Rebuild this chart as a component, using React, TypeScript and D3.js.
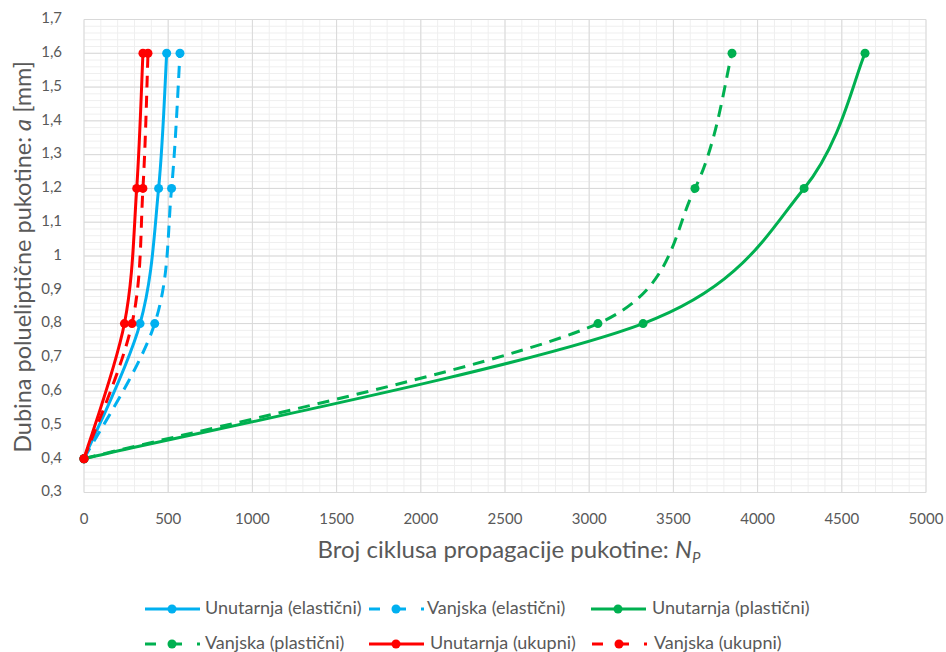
import React from "react";
import * as d3 from "d3";

const aLevels = [0.4, 0.8, 1.2, 1.6];
const unutarnjaElasticni = [0, 333, 443, 491];
const vanjskaElasticni = [0, 420, 520, 570];
const unutarnjaPlasticni = [0, 3320, 4276, 4638];
const vanjskaPlasticni = [0, 3052, 3628, 3848];
const unutarnjaUkupni = [0, 240, 313, 350];
const vanjskaUkupni = [0, 285, 350, 380];

const xTicks = [0, 500, 1000, 1500, 2000, 2500, 3000, 3500, 4000, 4500, 5000];
const yTicks = [0.3, 0.4, 0.5, 0.6, 0.7, 0.8, 0.9, 1.0, 1.1, 1.2, 1.3, 1.4, 1.5, 1.6, 1.7];

const seriesNames = [
  "Unutarnja (elastični)",
  "Vanjska (elastični)",
  "Unutarnja (plastični)",
  "Vanjska (plastični)",
  "Unutarnja (ukupni)",
  "Vanjska (ukupni)",
];
const seriesValues = [
  unutarnjaElasticni,
  vanjskaElasticni,
  unutarnjaPlasticni,
  vanjskaPlasticni,
  unutarnjaUkupni,
  vanjskaUkupni,
];
const seriesColors = ["#00B0F0", "#00B0F0", "#00B050", "#00B050", "#FF0000", "#FF0000"];
const seriesDashed = [false, true, false, true, false, true];

const W = 946;
const H = 652;
const M = { left: 84, right: 926, top: 19.5, bottom: 492.5 };
const FONT = "Lato, 'Open Sans', sans-serif";
const TXT = "#595959";

// Excel-like smoothed line: Catmull-Rom tangents (1/6) with arms limited to half the segment
function smoothPath(pts: [number, number][]): string {
  const p = d3.path();
  const n = pts.length;
  if (n === 0) return "";
  p.moveTo(pts[0][0], pts[0][1]);
  const tang = pts.map((pt, i) => {
    const a = pts[Math.max(0, i - 1)];
    const b = pts[Math.min(n - 1, i + 1)];
    return [(b[0] - a[0]) / 6, (b[1] - a[1]) / 6];
  });
  const arm = (t: number[], limit: number) => {
    const len = Math.hypot(t[0], t[1]);
    const f = len > limit && len > 0 ? limit / len : 1;
    return [t[0] * f, t[1] * f];
  };
  for (let i = 0; i < n - 1; i++) {
    const a = pts[i];
    const b = pts[i + 1];
    const seg = Math.hypot(b[0] - a[0], b[1] - a[1]);
    const t1 = arm(tang[i], seg * 0.5);
    const t2 = arm(tang[i + 1], seg * 0.5);
    p.bezierCurveTo(a[0] + t1[0], a[1] + t1[1], b[0] - t2[0], b[1] - t2[1], b[0], b[1]);
  }
  return p.toString();
}

export default function App() {
  const x = d3.scaleLinear().domain([0, 5000]).range([M.left, M.right]);
  const y = d3.scaleLinear().domain([0.3, 1.7]).range([M.bottom, M.top]);

  const xMinor = d3.range(0, 5001, 100);
  const yMinor = d3.range(0, 71).map((i) => 0.3 + i * 0.02);

  const legendRows = [
    [
      { i: 0, lx: 145, tx: 205 },
      { i: 1, lx: 369, tx: 427 },
      { i: 2, lx: 591, tx: 652 },
    ],
    [
      { i: 3, lx: 145, tx: 205 },
      { i: 4, lx: 369, tx: 430 },
      { i: 5, lx: 592, tx: 654 },
    ],
  ];
  const legendY = [609, 644];

  return (
    <svg
      width={W}
      height={H}
      style={{ position: "absolute", left: 0, top: 0, background: "#fff" }}
      fontFamily={FONT}
    >
      <rect x={0} y={0} width={W} height={H} fill="#fff" />
      {/* minor grid */}
      <g stroke="#EFEFEF" strokeWidth={1}>
        {xMinor.map((v) => (
          <line key={"xm" + v} x1={x(v)} x2={x(v)} y1={M.top} y2={M.bottom} />
        ))}
        {yMinor.map((v, i) => (
          <line key={"ym" + i} x1={M.left} x2={M.right} y1={y(v)} y2={y(v)} />
        ))}
      </g>
      {/* major grid */}
      <g stroke="#D9D9D9" strokeWidth={1}>
        {xTicks.map((v) => (
          <line key={"xM" + v} x1={x(v)} x2={x(v)} y1={M.top} y2={M.bottom} />
        ))}
        {yTicks.map((v, i) => (
          <line key={"yM" + i} x1={M.left} x2={M.right} y1={y(v)} y2={y(v)} />
        ))}
      </g>
      {/* tick labels */}
      <g fill={TXT} fontSize={15}>
        {xTicks.map((v) => (
          <text key={"xt" + v} x={x(v)} y={520} textAnchor="middle" dominantBaseline="middle">
            {String(v)}
          </text>
        ))}
        {yTicks.map((v, i) => (
          <text key={"yt" + i} x={62} y={y(v)} textAnchor="end" dominantBaseline="middle">
            {d3.format(".1~f")(v).replace(".", ",")}
          </text>
        ))}
      </g>
      {/* axis titles */}
      <text x={509} y={558} textAnchor="middle" fill={TXT} fontSize={24}>
        Broj ciklusa propagacije pukotine:{" "}
        <tspan fontStyle="italic">N</tspan>
        <tspan fontStyle="italic" fontSize={15} dy={5}>
          P
        </tspan>
      </text>
      <text
        transform={`translate(31,257) rotate(-90)`}
        textAnchor="middle"
        fill={TXT}
        fontSize={23.5}
      >
        Dubina polueliptične pukotine: <tspan fontStyle="italic">a</tspan> [mm]
      </text>
      {/* series */}
      {seriesValues.map((vals, si) => {
        const pts = vals.map((v, k) => [x(v), y(aLevels[k])] as [number, number]);
        return (
          <g key={"s" + si}>
            <path
              d={smoothPath(pts)}
              fill="none"
              stroke={seriesColors[si]}
              strokeWidth={3}
              strokeDasharray={seriesDashed[si] ? "12 8" : undefined}
            />
            {pts.map((p, k) => (
              <circle key={k} cx={p[0]} cy={p[1]} r={4.5} fill={seriesColors[si]} />
            ))}
          </g>
        );
      })}
      {/* legend */}
      {legendRows.map((row, ri) =>
        row.map((it) => (
          <g key={"lg" + it.i}>
            <line
              x1={it.lx}
              x2={it.lx + 55}
              y1={legendY[ri]}
              y2={legendY[ri]}
              stroke={seriesColors[it.i]}
              strokeWidth={3}
              strokeDasharray={seriesDashed[it.i] ? "11 15" : undefined}
            />
            <circle cx={it.lx + 27} cy={legendY[ri]} r={4.5} fill={seriesColors[it.i]} />
            <text
              x={it.tx}
              y={legendY[ri]}
              dominantBaseline="middle"
              fill={TXT}
              fontSize={18}
            >
              {seriesNames[it.i]}
            </text>
          </g>
        ))
      )}
    </svg>
  );
}
